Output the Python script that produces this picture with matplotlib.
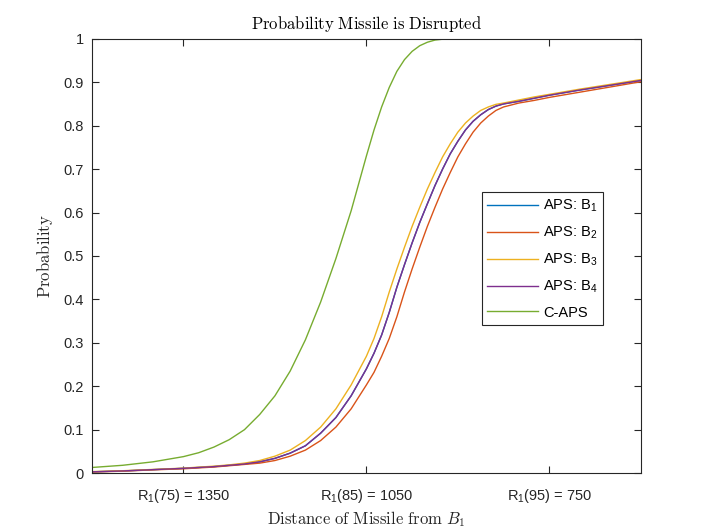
import matplotlib
matplotlib.use("Agg")
import matplotlib.pyplot as plt

plt.rcParams['font.family'] = ['Liberation Sans', 'DejaVu Sans']
plt.rcParams['mathtext.fontset'] = 'custom'
plt.rcParams['mathtext.rm'] = 'Liberation Sans'
plt.rcParams['mathtext.it'] = 'Liberation Sans:italic'

# distance of missile from B1 (x axis runs from far to near)
distance = [1500, 1450, 1400, 1350, 1325, 1300, 1275, 1250, 1225, 1200, 1175,
            1150, 1125, 1100, 1075, 1050, 1037.5, 1025, 1012.5, 1000, 987.5,
            975, 962.5, 950, 937.5, 925, 912.5, 900, 887.5, 875, 862.5, 850,
            837.5, 825, 800, 775, 750, 700, 650, 600]

# probability values
aps_b1 = [0.003, 0.005, 0.008, 0.011, 0.013, 0.015, 0.018, 0.021, 0.026, 0.034, 0.046,
          0.063, 0.092, 0.128, 0.178, 0.24, 0.276, 0.318, 0.37, 0.428, 0.48,
          0.53, 0.577, 0.62, 0.662, 0.70, 0.735, 0.764, 0.79, 0.81, 0.825, 0.837,
          0.845, 0.85, 0.856, 0.863, 0.870, 0.882, 0.893, 0.904]
aps_b2 = [0.0025, 0.0045, 0.0075, 0.010, 0.012, 0.014, 0.017, 0.020, 0.023, 0.029, 0.039,
          0.053, 0.075, 0.106, 0.148, 0.203, 0.232, 0.269, 0.31, 0.36, 0.417,
          0.47, 0.52, 0.568, 0.612, 0.654, 0.692, 0.728, 0.758, 0.785, 0.806, 0.822,
          0.835, 0.843, 0.852, 0.858, 0.865, 0.877, 0.889, 0.901]
aps_b3 = [0.0035, 0.0055, 0.0085, 0.0115, 0.0138, 0.016, 0.019, 0.023, 0.029, 0.039, 0.053,
          0.075, 0.106, 0.148, 0.203, 0.269, 0.31, 0.36, 0.417, 0.47, 0.52,
          0.568, 0.612, 0.654, 0.692, 0.728, 0.758, 0.785, 0.806, 0.822, 0.835, 0.843,
          0.849, 0.852, 0.859, 0.866, 0.872, 0.884, 0.895, 0.906]
aps_b4 = [0.003, 0.005, 0.008, 0.011, 0.013, 0.015, 0.018, 0.021, 0.026, 0.034, 0.046,
          0.063, 0.092, 0.128, 0.178, 0.24, 0.276, 0.318, 0.37, 0.428, 0.48,
          0.53, 0.577, 0.62, 0.662, 0.70, 0.735, 0.764, 0.79, 0.81, 0.825, 0.837,
          0.845, 0.85, 0.856, 0.863, 0.870, 0.882, 0.893, 0.904]
c_aps = [0.013, 0.018, 0.026, 0.038, 0.047, 0.06, 0.077, 0.10, 0.135, 0.178, 0.235,
         0.307, 0.394, 0.494, 0.604, 0.73, 0.79, 0.843, 0.888, 0.925, 0.952,
         0.971, 0.984, 0.992, 0.997, 0.999, 1.0, 1.0, 1.0, 1.0, 1.0, 1.0,
         1.0, 1.0, 1.0, 1.0, 1.0, 1.0, 1.0, 1.0]

series = [aps_b1, aps_b2, aps_b3, aps_b4, c_aps]
labels = ['APS: B$_1$', 'APS: B$_2$', 'APS: B$_3$', 'APS: B$_4$', 'C-APS']
colors = ['#0072BD', '#D95319', '#EDB120', '#7E2F8E', '#77AC30']

xtick_pos = [1350, 1050, 750]
xtick_labels = ['R$_1$(75) = 1350', 'R$_1$(85) = 1050', 'R$_1$(95) = 750']
ytick_pos = [0, 0.1, 0.2, 0.3, 0.4, 0.5, 0.6, 0.7, 0.8, 0.9, 1]
ytick_labels = ['0', '0.1', '0.2', '0.3', '0.4', '0.5', '0.6', '0.7', '0.8', '0.9', '1']

fig = plt.figure(figsize=(7.08, 5.31), dpi=100)
ax = fig.add_axes([0.130, 0.109, 0.775, 0.818])

for vals, lab, col in zip(series, labels, colors):
    ax.plot(distance, vals, color=col, lw=1.0, label=lab)

ax.set_xlim(1500, 600)
ax.set_ylim(0, 1)
ax.set_xticks(xtick_pos)
ax.set_xticklabels(xtick_labels)
ax.set_yticks(ytick_pos)
ax.set_yticklabels(ytick_labels)

axis_grey = '#262626'
for sp in ax.spines.values():
    sp.set_color(axis_grey)
    sp.set_linewidth(0.8)
ax.tick_params(direction='in', length=5, width=0.8, colors=axis_grey,
               labelsize=10.5, top=True, right=True, pad=6)
ax.tick_params(axis='x', pad=10)

ax.set_title(r'$\mathrm{Probability\ Missile\ is\ Disrupted}$', fontsize=12,
             math_fontfamily='cm', color='black', pad=7)
ax.set_xlabel(r'$\mathrm{Distance\ of\ Missile\ from\ }B_1$', fontsize=12,
              math_fontfamily='cm', color=axis_grey, labelpad=3)
ax.set_ylabel(r'$\mathrm{Probability}$', fontsize=12,
              math_fontfamily='cm', color=axis_grey, labelpad=6)

leg = ax.legend(loc='upper left', bbox_to_anchor=(0.71, 0.647), borderaxespad=0,
                fontsize=10.5, handlelength=3.5, handletextpad=0.3,
                labelspacing=0.72, fancybox=False, framealpha=1,
                edgecolor=axis_grey, borderpad=0.4)
leg.get_frame().set_linewidth(0.8)

fig.savefig('out.png', dpi=100)
